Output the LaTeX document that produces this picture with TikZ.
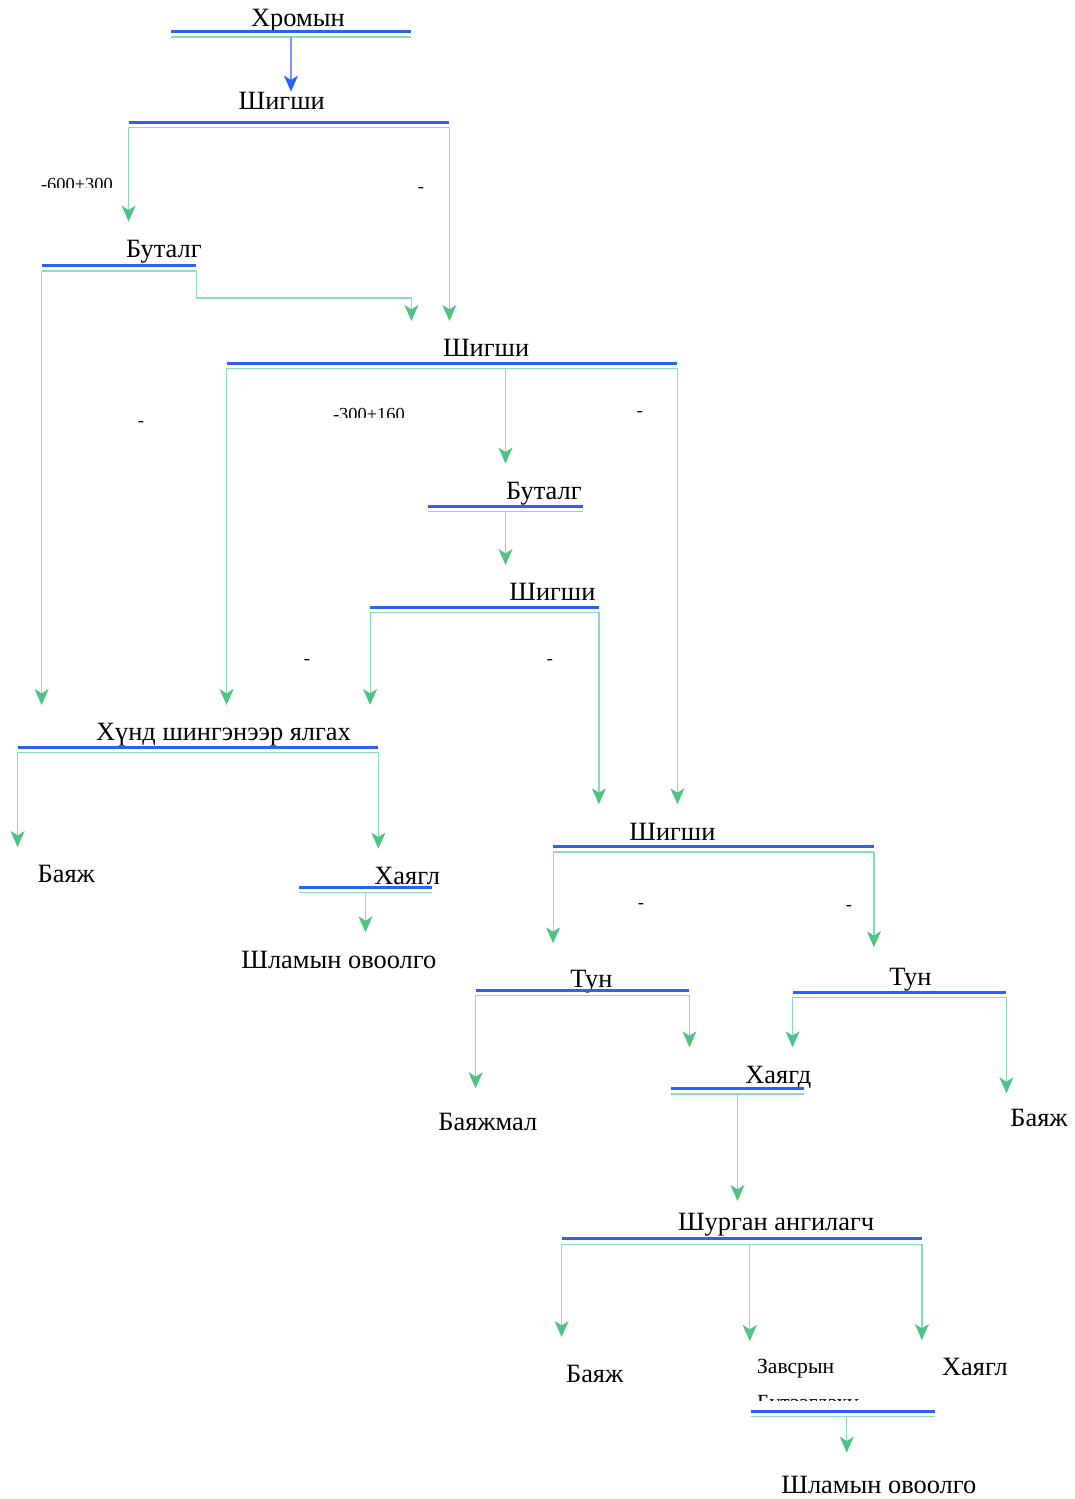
\documentclass[tikz,border=0pt]{standalone}
\usepackage{fontspec}
\setmainfont{Liberation Serif}
\usepackage{xcolor}
\usetikzlibrary{arrows.meta, positioning, calc}

\definecolor{barblue}{RGB}{44,96,246}
\definecolor{linkblue}{RGB}{118,150,246}
\definecolor{linkgreen}{RGB}{140,218,182}
\definecolor{tipgreen}{RGB}{78,196,132}

\begin{document}
\begin{tikzpicture}[
    x=0.5pt, y=-0.5pt,
    stage/.style={font=\fontsize{13.2}{16}\selectfont, inner sep=0pt, anchor=base west},
    note/.style={font=\fontsize{9.2}{11}\selectfont, inner sep=0pt},
    bar/.style={rectangle, inner sep=0pt, minimum height=2.25pt, minimum width={#1*0.5pt}},
    feed/.style={draw=linkblue, line width=0.6pt, -{Stealth[length=8pt, width=7pt, inset=2.2pt, color=barblue]}},
    flow/.style={draw=linkgreen, line width=0.6pt, -{Stealth[length=8pt, width=7pt, inset=2.2pt, color=tipgreen]}, shorten >=9pt}
]
    \useasboundingbox (0,0) rectangle (1075,1499);

    % --- Upper screens ---
    \node[stage] (xromyn) at (250.7,26) {Хромын};
    \node[bar=240] (xromyn-bar) at (291,34.25) {};

    \node[stage] (shigshi-a) at (238.3,109.3) {Шигши};
    \node[bar=320] (shigshi-a-bar) at (289,124.75) {};

    \node[stage] (butalg-a) at (125.7,257.3) {Буталг};
    \node[bar=154] (butalg-a-bar) at (119,268.25) {};

    \node[stage] (shigshi-b) at (442.7,356.7) {Шигши};
    \node[bar=450] (shigshi-b-bar) at (452,365.75) {};

    \node[stage] (butalg-b) at (505.7,499.3) {Буталг};
    \node[bar=155] (butalg-b-bar) at (505.5,508.75) {};

    \node[stage] (shigshi-c) at (509,600.7) {Шигши};
    \node[bar=228] (shigshi-c-bar) at (484.5,609.75) {};

    % --- Heavy media branch ---
    \node[stage] (hund) at (95.7,740.7) {Хүнд шингэнээр ялгах};
    \node[bar=360] (hund-bar) at (198,749.75) {};

    \node[stage] (bayaj-a) at (37.3,882.7) {Баяж};

    \node[stage] (hayagl-a) at (374,884.3) {Хаягл};
    \node[bar=133] (hayagl-a-bar) at (365.5,890) {};

    \node[stage] (shlam-a) at (241,968) {Шламын овоолго};

    % --- Fine screen branch ---
    \node[stage] (shigshi-d) at (629,840) {Шигши};
    \node[bar=320] (shigshi-d-bar) at (713.5,849.25) {};

    \node[stage] (tun-a) at (570,987) {Тун};
    \node[bar=213] (tun-a-bar) at (582.5,992.75) {};

    \node[stage] (tun-b) at (889,985) {Тун};
    \node[bar=213] (tun-b-bar) at (899.5,994.75) {};

    \node[stage] (bayajmal) at (438,1130) {Баяжмал};
    \node[stage] (bayaj-b) at (1010,1126) {Баяж};

    \node[stage] (hayagd) at (745,1083) {Хаягд};
    \node[bar=133] (hayagd-bar) at (737.5,1091.25) {};

    \node[stage] (shurgan) at (677.7,1230.7) {Шурган ангилагч};
    \node[bar=359.5] (shurgan-bar) at (741.75,1241.5) {};

    \node[stage] (bayaj-c) at (565.7,1382.7) {Баяж};
    \node[stage] (hayagl-b) at (941.7,1375.7) {Хаягл};

    \begin{scope}
        \clip (740,1340) rectangle (858,1400);
        \node[stage, font=\fontsize{10.8}{18}\selectfont, align=left, anchor=north west] (zavsryn) at (756.7,1359) {Завсрын\\Бүтээгдэхүүн};
    \end{scope}
    \node[bar=183.5] (zavsryn-bar) at (842.75,1414) {};

    \node[stage] (shlam-b) at (781,1493.3) {Шламын овоолго};

    % --- Size labels ---
    \begin{scope}
        \clip (30,170) rectangle (130,187.5);
        \node[note, anchor=base west] (size-a) at (40.7,190.5) {-600+300};
    \end{scope}
    \begin{scope}
        \clip (320,400) rectangle (420,417.5);
        \node[note, anchor=base west] (size-b) at (332.7,420.7) {-300+160};
    \end{scope}
    \node[note] (dash-a) at (421,190) {-};
    \node[note] (dash-b) at (141,424) {-};
    \node[note] (dash-c) at (640,414) {-};
    \node[note] (dash-d) at (307,662) {-};
    \node[note] (dash-e) at (550,662) {-};
    \node[note] (dash-f) at (641,906) {-};
    \node[note] (dash-g) at (849,908) {-};

    % --- Bars ---
    \foreach \b in {xromyn, shigshi-a, butalg-a, shigshi-b, butalg-b, shigshi-c, hund, hayagl-a, shigshi-d, tun-a, tun-b, hayagd, shurgan, zavsryn} {
        \draw[barblue, line width=1.5pt] (\b-bar.north west) -- (\b-bar.north east);
        \draw[linkgreen, line width=0.6pt] (\b-bar.south west) -- (\b-bar.south east);
    }

    % --- Connections ---
    \draw[feed] (xromyn-bar.south) -- (xromyn-bar.south |- shigshi-a.north);

    \draw[flow] (shigshi-a-bar.south west) -- (shigshi-a-bar.south west |- butalg-a.north);
    \draw[flow] (shigshi-a-bar.south east) -- (shigshi-a-bar.south east |- shigshi-b.north);

    \draw[flow] (butalg-a-bar.south west) -- (butalg-a-bar.south west |- hund.north);
    \draw[flow] (butalg-a-bar.south east) -- ++(0,27) -| ([xshift=-19pt]shigshi-a-bar.south east |- shigshi-b.north);

    \draw[flow] (shigshi-b-bar.south west) -- (shigshi-b-bar.south west |- hund.north);
    \draw[flow] (shigshi-b-bar.south -| butalg-b-bar.center) -- (butalg-b-bar.center |- butalg-b.north);
    \draw[flow] (shigshi-b-bar.south east) -- (shigshi-b-bar.south east |- shigshi-d.north);

    \draw[flow] (butalg-b-bar.south) -- (butalg-b-bar.south |- shigshi-c.north);

    \draw[flow] (shigshi-c-bar.south west) -- (shigshi-c-bar.south west |- hund.north);
    \draw[flow] (shigshi-c-bar.south east) -- (shigshi-c-bar.south east |- shigshi-d.north);

    \draw[flow] (hund-bar.south west) -- (hund-bar.south west |- bayaj-a.north);
    \draw[flow] (hund-bar.south east) -- (hund-bar.south east |- hayagl-a.north);
    \draw[flow] (hayagl-a-bar.south) -- (hayagl-a-bar.south |- shlam-a.north);

    \draw[flow, shorten >=13pt] (shigshi-d-bar.south west) -- (shigshi-d-bar.south west |- tun-a.north);
    \draw[flow, shorten >=10pt] (shigshi-d-bar.south east) -- (shigshi-d-bar.south east |- tun-b.north);

    \draw[flow, shorten >=12pt] (tun-a-bar.south west) -- (tun-a-bar.south west |- bayajmal.north);
    \draw[flow] (tun-a-bar.south east) -- (tun-a-bar.south east |- hayagd.north);
    \draw[flow] (tun-b-bar.south west) -- (tun-b-bar.south west |- hayagd.north);
    \draw[flow, shorten >=7.5pt] (tun-b-bar.south east) -- (tun-b-bar.south east |- bayaj-b.north);

    \draw[flow, shorten >=6pt] (hayagd-bar.south) -- (hayagd-bar.south |- shurgan.north);

    \draw[flow, shorten >=14pt] (shurgan-bar.south west) -- (shurgan-bar.south west |- bayaj-c.north);
    \draw[flow] ([xshift=4pt]shurgan-bar.south) -- ([xshift=4pt]shurgan-bar.south |- zavsryn.north);
    \draw[flow] (shurgan-bar.south east) -- (shurgan-bar.south east |- hayagl-b.north);

    \draw[flow, shorten >=11.5pt] ([xshift=2pt]zavsryn-bar.south) -- ([xshift=2pt]zavsryn-bar.south |- shlam-b.north);

\end{tikzpicture}
\end{document}
